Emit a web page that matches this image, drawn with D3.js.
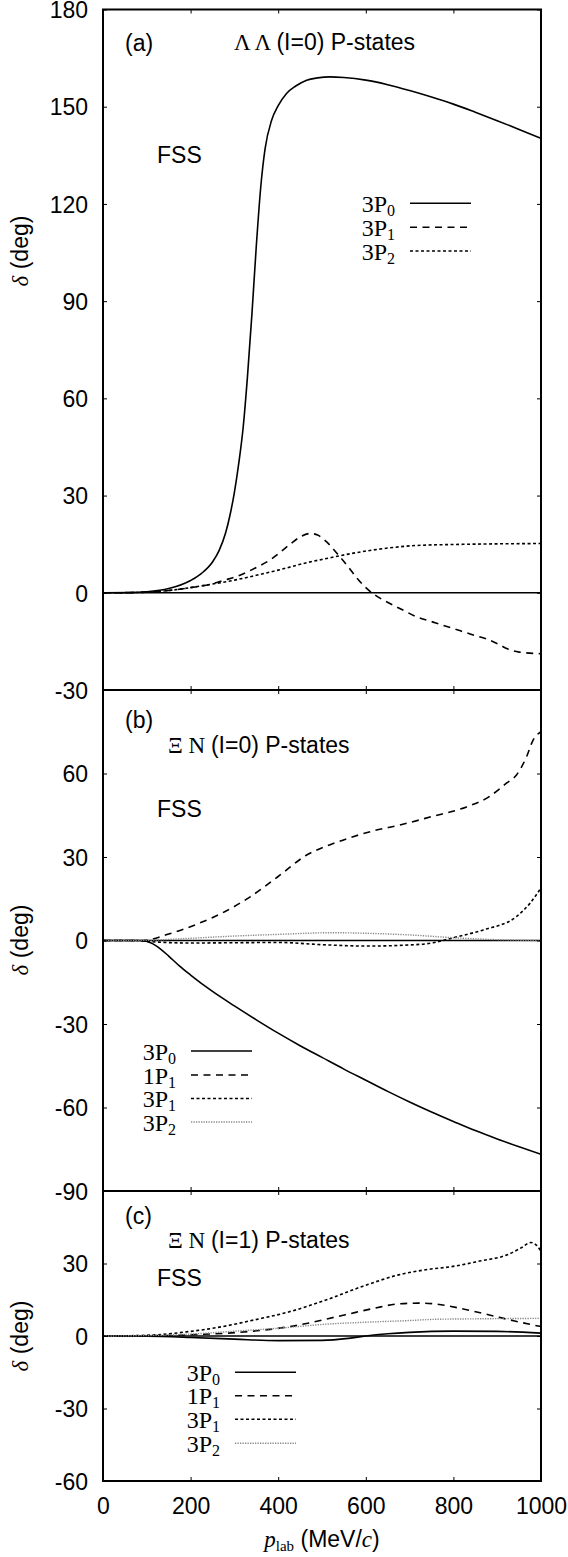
<!DOCTYPE html>
<html><head><meta charset="utf-8">
<script src="https://cdn.jsdelivr.net/npm/d3@7"></script>
<style>
body{margin:0;background:#fff}
svg{display:block}
text{fill:#000}
</style>
</head><body>
<svg id="chart" width="568" height="1557"></svg>
<script>
// ---------------- data ----------------
const xTicks = [0, 200, 400, 600, 800, 1000];
const yTicksA = [-30, 0, 30, 60, 90, 120, 150, 180];
const yTicksB = [-90, -60, -30, 0, 30, 60, 90];
const yTicksC = [-60, -30, 0, 30, 60];
const yLabelsA = [-30, 0, 30, 60, 90, 120, 150, 180];
const yLabelsB = [-90, -60, -30, 0, 30, 60];
const yLabelsC = [-60, -30, 0, 30];

// panel (a)  Lambda Lambda (I=0)
const a_3P0 = [[0,0],[60,0.05],[100,0.3],[150,1.3],[200,3.8],[225,6],[250,9.5],[265,13],[280,18.5],[290,24],[300,31],[310,40],[320,51],[330,67],[340,86],[350,107],[360,125],[370,137],[385,145.8],[400,150.3],[419,154.1],[440,156.4],[465,158.2],[490,158.9],[518,159.2],[550,159],[600,158.2],[650,156.8],[700,155],[750,153],[800,150.8],[850,148.3],[900,145.7],[950,143],[1000,140.2]];
const a_3P1 = [[0,0],[60,0.05],[100,0.2],[150,0.7],[200,1.6],[250,2.8],[277,3.9],[300,4.8],[350,7.8],[381,10.1],[400,12.0],[430,15.3],[450,17.2],[473,18.3],[490,17.8],[510,15.8],[534,12.2],[560,8],[580,4.5],[600,1.6],[620,-0.6],[641,-2.3],[680,-5.0],[716,-7.4],[760,-9.3],[799,-11],[840,-12.8],[882,-14.6],[905,-16],[923,-17.3],[950,-18.3],[1000,-18.8]];
const a_3P2 = [[0,0],[60,0.05],[100,0.2],[150,0.7],[200,1.6],[250,2.7],[300,3.9],[350,5.4],[400,7.0],[475,9.6],[500,10.3],[592,12.7],[650,13.8],[716,14.6],[800,14.9],[900,15.1],[1000,15.2]];

// panel (b)  Xi N (I=0)
const b_3P0 = [[0,0],[80,0],[90,-0.1],[110,-0.9],[130,-2.9],[150,-5.6],[175,-9.2],[200,-12.4],[250,-18.3],[300,-23.5],[350,-28.5],[400,-33.3],[450,-37.8],[500,-42],[550,-46.2],[600,-50.2],[650,-54.2],[700,-58],[750,-61.6],[800,-65],[850,-68.3],[900,-71.3],[950,-74.1],[1000,-76.8]];
const b_1P1 = [[0,0],[91,0],[150,2.3],[221,6.3],[280,10.5],[336,15.7],[400,23],[465,30.7],[520,34.5],[571,37.3],[620,39.5],[678,41.5],[750,44.5],[830,48],[880,51.5],[921,56.5],[944,59.5],[967,66],[982,72],[1000,75]];
const b_3P1 = [[0,0],[80,0],[100,-0.3],[200,-0.9],[300,-0.8],[400,-0.7],[500,-1.5],[602,-2.0],[700,-1.6],[754,-0.8],[776,0],[800,1.0],[868,3.8],[944,8.6],[975,13.4],[1000,18.9]];
const b_3P2 = [[0,0],[100,0.1],[200,0.8],[300,1.6],[400,2.2],[526,2.8],[600,2.6],[700,2.0],[800,1.0],[900,0.3],[1000,0]];

// panel (c)  Xi N (I=1)
const c_3P0 = [[0,0],[100,-0.1],[200,-0.6],[300,-1.3],[400,-1.9],[500,-1.8],[560,-1.0],[600,0],[650,0.9],[700,1.5],[800,2.0],[900,1.9],[1000,1.2]];
const c_1P1 = [[0,0],[150,0.2],[200,0.5],[302,1.4],[427,3.9],[551,8.7],[620,11.5],[675,13.3],[720,13.6],[757,13.3],[820,11.3],[882,8.7],[940,6.2],[1000,3.9]];
const c_3P1 = [[0,0],[100,0.3],[195,1.8],[270,3.8],[344,6.6],[427,10.1],[509,14.9],[592,20.5],[675,25.3],[740,27.5],[799,28.8],[860,31],[923,33.6],[955,36.5],[977,38.7],[990,37.5],[1000,35]];
const c_3P2 = [[0,0],[100,0.2],[200,0.8],[300,2.0],[400,3.2],[509,4.9],[600,5.7],[700,6.4],[757,6.9],[850,7.1],[1000,7.3]];

// ---------------- styles / layout ----------------
const STY = {
  solid:  {dash:null,      color:"#000",    w:1.6},
  dashed: {dash:"7,5.5",   color:"#000",    w:1.6},
  dotted: {dash:"3,2.5",   color:"#000",    w:1.6},
  gray:   {dash:"1.3,1.2", color:"#8a8a8a", w:1.4}
};
const SANS = "'Liberation Sans', Arial, Helvetica, sans-serif";
const SERIF = "'Liberation Serif', 'Times New Roman', serif";
const FS = 23;

const X0 = 103, X1 = 541;
const x = d3.scaleLinear().domain([0,1000]).range([X0, X1]);

const panels = [
  {dom:[-30,180], top:9.5, bot:690, ticks:yTicksA, labels:yLabelsA,
   tag:"(a)", tagY:51, title:[["Λ Λ ",SERIF],["(I=0) P-states",SANS]], titleX:234, titleY:50,
   fssY:163, ylabY:251,
   series:[["3P","0",a_3P0,"solid"],["3P","1",a_3P1,"dashed"],["3P","2",a_3P2,"dotted"]],
   leg:{textEnd:395, l0:410, l1:471, rows:[203.3,227.3,251]}},
  {dom:[-90,90], top:690, bot:1191, ticks:yTicksB, labels:yLabelsB,
   tag:"(b)", tagY:728, title:[["Ξ N ",SERIF],["(I=0) P-states",SANS]], titleX:168, titleY:752.5,
   fssY:816.5, ylabY:940,
   series:[["3P","0",b_3P0,"solid"],["1P","1",b_1P1,"dashed"],["3P","1",b_3P1,"dotted"],["3P","2",b_3P2,"gray"]],
   leg:{textEnd:176, l0:191, l1:252, rows:[1051,1075,1098.5,1122]}},
  {dom:[-60,60], top:1191, bot:1481, ticks:yTicksC, labels:yLabelsC,
   tag:"(c)", tagY:1223.5, title:[["Ξ N ",SERIF],["(I=1) P-states",SANS]], titleX:168, titleY:1247.5,
   fssY:1286, ylabY:1336,
   series:[["3P","0",c_3P0,"solid"],["1P","1",c_1P1,"dashed"],["3P","1",c_3P1,"dotted"],["3P","2",c_3P2,"gray"]],
   leg:{textEnd:220, l0:235, l1:296, rows:[1372.3,1395.7,1419.3,1443.3]}}
];

const svg = d3.select("#chart");
svg.append("rect").attr("width",568).attr("height",1557).attr("fill","#fff");

panels.forEach((p, i) => {
  const y = d3.scaleLinear().domain(p.dom).range([p.bot, p.top]);
  const g = svg.append("g");
  const clipId = "clip"+i;
  svg.append("clipPath").attr("id",clipId).append("rect")
    .attr("x",X0).attr("y",p.top).attr("width",X1-X0).attr("height",p.bot-p.top);

  // zero line
  g.append("path").datum([[0,0],[1000,0]])
    .attr("d", d3.line().x(d=>x(d[0])).y(d=>y(d[1])))
    .attr("stroke","#000").attr("stroke-width",1.5).attr("fill","none");

  // curves
  const line = d3.line().x(d=>x(d[0])).y(d=>y(d[1])).curve(d3.curveMonotoneX);
  p.series.forEach(s => {
    const st = STY[s[3]];
    g.append("path").datum(s[2]).attr("d", line)
      .attr("clip-path","url(#"+clipId+")")
      .attr("fill","none").attr("stroke",st.color).attr("stroke-width",st.w)
      .attr("stroke-dasharray", st.dash);
  });

  // axes
  const left = d3.axisLeft(y).tickValues(p.ticks).tickSizeInner(-4).tickSizeOuter(0).tickPadding(15)
    .tickFormat(d => p.labels.includes(d) ? d : "");
  const gl = svg.append("g").attr("transform",`translate(${X0},0)`).call(left);
  gl.selectAll(".tick text").attr("dy","0.36em");
  const right = d3.axisRight(y).tickValues(p.ticks).tickSizeInner(-4).tickSizeOuter(0).tickFormat("");
  const gr = svg.append("g").attr("transform",`translate(${X1},0)`).call(right);
  const top = d3.axisTop(x).tickValues(xTicks).tickSizeInner(-4).tickSizeOuter(0).tickFormat("");
  const gt = svg.append("g").attr("transform",`translate(0,${p.top})`).call(top);
  const bottom = d3.axisBottom(x).tickValues(xTicks).tickSizeInner(-4).tickSizeOuter(0).tickPadding(17)
    .tickFormat(i === 2 ? (d => d) : "");
  const gb = svg.append("g").attr("transform",`translate(0,${p.bot})`).call(bottom);
  [gl,gr,gt,gb].forEach(a => {
    a.select(".domain").remove();
    a.selectAll(".tick line").attr("stroke","#000").attr("stroke-width",1);
    a.selectAll("text").attr("font-family",SANS).attr("font-size",FS).attr("fill","#000");
  });

  // frame
  svg.append("rect").attr("x",X0).attr("y",p.top).attr("width",X1-X0).attr("height",p.bot-p.top)
    .attr("fill","none").attr("stroke","#000").attr("stroke-width",2);

  // panel tag, title, FSS
  svg.append("text").attr("x",125).attr("y",p.tagY).attr("font-family",SANS).attr("font-size",FS).text(p.tag);
  const t = svg.append("text").attr("x",p.titleX).attr("y",p.titleY).attr("font-size",FS);
  p.title.forEach(part => t.append("tspan").attr("font-family",part[1]).text(part[0]));
  svg.append("text").attr("x",157).attr("y",p.fssY).attr("font-family",SANS).attr("font-size",FS).text("FSS");

  // legend
  p.series.forEach((s, k) => {
    const ry = p.leg.rows[k];
    const st = STY[s[3]];
    const tx = svg.append("text").attr("x",p.leg.textEnd).attr("y",ry+8.5)
      .attr("text-anchor","end").attr("font-family",SERIF).attr("font-size",24);
    tx.append("tspan").text(s[0]);
    tx.append("tspan").attr("font-size",16).attr("dy",4).text(s[1]);
    svg.append("line").attr("x1",p.leg.l0).attr("x2",p.leg.l1).attr("y1",ry).attr("y2",ry)
      .attr("stroke",st.color).attr("stroke-width",st.w).attr("stroke-dasharray",st.dash);
  });

  // y axis label
  const yl = svg.append("text").attr("transform",`translate(27.5,${p.ylabY}) rotate(-90)`)
    .attr("text-anchor","middle").attr("font-size",FS);
  yl.append("tspan").attr("font-family",SERIF).attr("font-style","italic").text("δ");
  yl.append("tspan").attr("font-family",SANS).text(" (deg)");
});

// x axis label
const xl = svg.append("text").attr("x",(X0+X1)/2).attr("y",1547).attr("text-anchor","middle").attr("font-size",FS);
xl.append("tspan").attr("font-family",SERIF).attr("font-style","italic").text("p");
xl.append("tspan").attr("font-family",SERIF).attr("font-size",15).attr("dy",4).text("lab");
xl.append("tspan").attr("font-family",SANS).attr("dy",-4).text(" (MeV/");
xl.append("tspan").attr("font-family",SERIF).attr("font-style","italic").text("c");
xl.append("tspan").attr("font-family",SANS).text(")");
</script>
</body></html>
